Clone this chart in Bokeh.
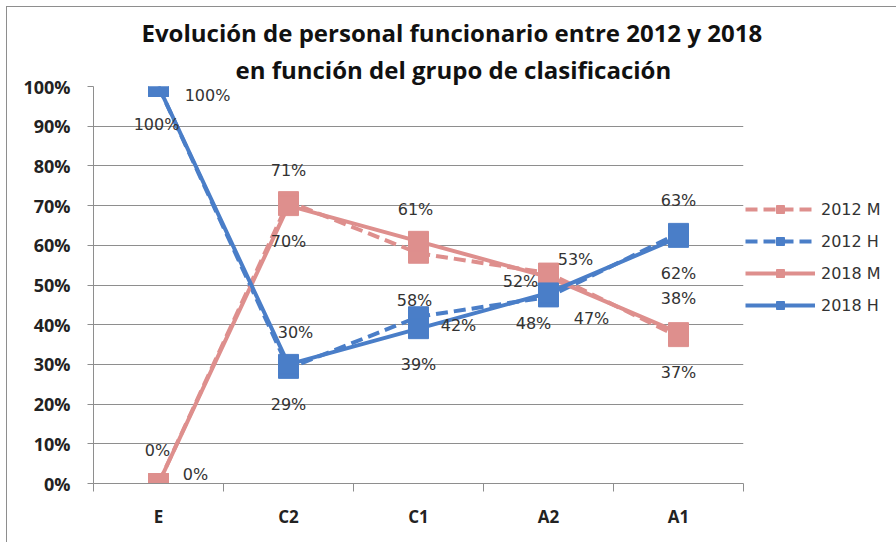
from bokeh.plotting import figure
from bokeh.models import Range1d, FixedTicker, Legend, LegendItem, Title, ColumnDataSource
from bokeh.core.properties import value
from bokeh.embed import file_html
from bokeh.resources import INLINE

# ---- data ----
categories = ["E", "C2", "C1", "A2", "A1"]
m_2012 = [0, 71, 58, 53, 37]
h_2012 = [100, 29, 42, 47, 63]
m_2018 = [0, 70, 61, 52, 38]
h_2018 = [100, 30, 39, 48, 62]
series_names = ["2012 M", "2012 H", "2018 M", "2018 H"]
y_ticks = [0, 10, 20, 30, 40, 50, 60, 70, 80, 90, 100]
title_lines = ["Evolución de personal funcionario entre 2012 y 2018",
               "en función del grupo de clasificación"]

# ---- styles ----
PINK = "#DE8F8D"
BLUE = "#4A7EC8"
TXT = "#333333"
GRID = "#8E8E8E"
title_offsets = [48, 142]

# label pixel offsets (dx, dy) per point, positive dy = down
off_m_2012 = [(-1, -33), (0, -31), (-4, 47), (27, -14), (0, 36)]
off_m_2018 = [(37, -9), (0, 36), (-3, -32), (-28, 4), (0, -34)]
off_h_2012 = [(-2, 38), (0, 36), (40, 9), (43, 22), (0, -33)]
off_h_2018 = [(49, 9), (7, -32), (0, 36), (-15, 31), (0, 36)]

xs = [i + 0.5 for i in range(len(categories))]

p = figure(frame_width=650, frame_height=397, output_backend="svg", toolbar_location=None,
           x_range=Range1d(0, len(categories)), y_range=Range1d(0, 100),
           min_border_left=86, min_border_right=145, min_border_top=79, min_border_bottom=60)
p.styles = {"margin-left": "7px", "margin-top": "7px",
            "box-shadow": "-1px -1px 0px 0px #8E8E8E"}
p.outline_line_color = None
p.background_fill_color = "white"
p.border_fill_color = "white"

# axes
p.xgrid.grid_line_color = None
p.ygrid.grid_line_color = GRID
p.ygrid.grid_line_width = 1
p.yaxis.ticker = FixedTicker(ticks=y_ticks)
p.yaxis.major_label_overrides = {t: f"{t}%" for t in y_ticks}
p.yaxis.axis_line_color = GRID
p.yaxis.major_tick_line_color = GRID
p.yaxis.major_tick_out = 6
p.yaxis.major_tick_in = 0
p.yaxis.minor_tick_line_color = None
p.yaxis.major_label_standoff = 17
p.yaxis.major_label_text_font = "Open Sans"
p.yaxis.major_label_text_font_style = "bold"
p.yaxis.major_label_text_font_size = "18px"
p.yaxis.major_label_text_color = "#222222"

p.xaxis.ticker = FixedTicker(ticks=xs, minor_ticks=list(range(len(categories) + 1)))
p.xaxis.major_label_overrides = {x: c for x, c in zip(xs, categories)}
p.xaxis.axis_line_color = GRID
p.xaxis.major_tick_line_color = None
p.xaxis.major_tick_out = 0
p.xaxis.major_tick_in = 0
p.xaxis.minor_tick_line_color = GRID
p.xaxis.minor_tick_out = 8
p.xaxis.minor_tick_in = 0
p.xaxis.major_label_standoff = 13
p.xaxis.major_label_text_font = "Open Sans"
p.xaxis.major_label_text_font_style = "bold"
p.xaxis.major_label_text_font_size = "17px"
p.xaxis.major_label_text_color = "#222222"

series = [
    (m_2012, PINK, "12 6", off_m_2012),
    (h_2012, BLUE, "12 6", off_h_2012),
    (m_2018, PINK, "solid", off_m_2018),
    (h_2018, BLUE, "solid", off_h_2018),
]

items = []
for name, (vals, color, dash, offs) in zip(series_names, series):
    src = ColumnDataSource(dict(x=xs, y=vals))
    ln = p.line("x", "y", source=src, line_color=color, line_width=4, line_dash=dash)
    sc = p.scatter("x", "y", source=src, marker="square", size=20,
                   fill_color=color, line_color=color, line_width=1)
    items.append(LegendItem(label=name, renderers=[ln, sc]))

for name, (vals, color, dash, offs) in zip(series_names, series):
    src = ColumnDataSource(dict(x=xs, y=vals, t=[f"{v}%" for v in vals],
                                dx=[o[0] for o in offs], dy=[o[1] for o in offs]))
    p.text("x", "y", text="t", source=src, x_offset="dx", y_offset="dy",
           text_font=value("DejaVu Sans"), text_font_size="16px", text_color=TXT,
           text_align="center", text_baseline="middle")

legend = Legend(items=items, location=(2, 168), orientation="vertical",
                glyph_width=70, glyph_height=20, label_height=20, spacing=12,
                padding=0, margin=0, label_standoff=6,
                label_text_font="DejaVu Sans", label_text_font_size="16px",
                label_text_color=TXT, border_line_color=None, background_fill_alpha=0)
p.add_layout(legend, "right")

for text, off in reversed(list(zip(title_lines, title_offsets))):
    p.add_layout(Title(text=text, align="left", offset=off, standoff=2,
                       text_font="Open Sans", text_font_style="bold", text_font_size="24px",
                       text_color="#111111"), "above")

open("out.html", "w").write(file_html(p, INLINE))
